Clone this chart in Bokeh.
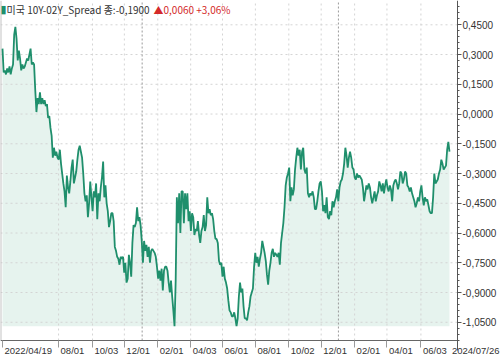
import numpy as np
import pandas as pd
from bokeh.plotting import figure
from bokeh.models import Range1d, FixedTicker, Label, CustomJSTickFormatter
from bokeh.core.properties import value
from bokeh.embed import file_html
from bokeh.resources import INLINE

# ---- data ----
seg1 = [0.33, 0.21, 0.22, 0.20, 0.23, 0.21, 0.24, 0.20, 0.23, 0.25,
        0.40, 0.44, 0.38, 0.27, 0.32, 0.28, 0.22, 0.25, 0.23, 0.24,
        0.26, 0.28, 0.27, 0.30, 0.33, 0.25, 0.26, 0.25, 0.12, 0.01,
        0.08, 0.05, 0.11, 0.05, 0.08, 0.05, 0.07, 0.04, 0.05, -0.02,
        -0.01, -0.07, -0.11, -0.22, -0.17, -0.21, -0.19, -0.22, -0.23, -0.18,
        -0.25, -0.30, -0.35, -0.39, -0.47, -0.31, -0.37, -0.40, -0.34, -0.27,
        -0.23, -0.35, -0.32, -0.29, -0.23, -0.18, -0.16, -0.19, -0.22, -0.30,
        -0.40, -0.44, -0.41, -0.52, -0.45, -0.34, -0.42, -0.49]
seg2 = [-0.39, -0.42, -0.35, -0.53, -0.40, -0.44, -0.37, -0.32, -0.24, -0.42,
        -0.36, -0.45, -0.49, -0.57, -0.54, -0.50, -0.50, -0.54, -0.67, -0.69,
        -0.72, -0.73, -0.76, -0.72, -0.73, -0.72, -0.80, -0.75, -0.85, -0.83,
        -0.71, -0.75, -0.82, -0.65, -0.56, -0.57, -0.55, -0.47, -0.54, -0.52,
        -0.56, -0.64, -0.75, -0.64, -0.69, -0.66, -0.72, -0.67, -0.75, -0.69,
        -0.68, -0.69, -0.70, -0.72, -0.77, -0.83, -0.79, -0.84, -0.78, -0.89,
        -0.79, -0.77, -0.77, -0.79, -0.85, -0.90, -0.84, -0.92, -0.99, -1.07,
        -0.84, -0.42, -0.55, -0.40, -0.60, -0.39]
seg3 = [-0.39, -0.55, -0.40, -0.48, -0.40, -0.54, -0.49, -0.59, -0.50, -0.52,
        -0.61, -0.58, -0.59, -0.54, -0.61, -0.65, -0.59, -0.57, -0.51, -0.59,
        -0.56, -0.42, -0.50, -0.48, -0.51, -0.50, -0.53, -0.59, -0.63, -0.63,
        -0.65, -0.74, -0.76, -0.75, -0.82, -0.77, -0.83, -0.85, -0.88, -0.94,
        -0.99, -1.00, -1.02, -1.02, -1.00, -1.03, -1.07, -1.03, -0.92, -0.85,
        -0.90, -0.88, -0.97, -1.03, -1.03, -1.04, -1.00, -0.97, -0.92, -0.90,
        -0.88, -0.77, -0.70, -0.75, -0.72, -0.77, -0.73, -0.70, -0.64, -0.67,
        -0.70, -0.74, -0.81, -0.86, -0.79]
seg4 = [-0.75, -0.70, -0.68, -0.72, -0.70, -0.71, -0.72, -0.70, -0.76, -0.65,
        -0.60, -0.55, -0.47, -0.36, -0.32, -0.30, -0.27, -0.44, -0.37, -0.41,
        -0.38, -0.28, -0.22, -0.17, -0.21, -0.18, -0.28, -0.19, -0.17, -0.28,
        -0.30, -0.27, -0.40, -0.42, -0.40, -0.41, -0.39, -0.42, -0.48, -0.48,
        -0.44, -0.39, -0.35, -0.34, -0.39, -0.49, -0.46, -0.50, -0.42, -0.52,
        -0.53, -0.49, -0.51, -0.44, -0.47, -0.44, -0.42, -0.38, -0.44, -0.37,
        -0.34, -0.33, -0.30, -0.25, -0.17, -0.21, -0.27, -0.22, -0.19, -0.22,
        -0.27, -0.28, -0.32, -0.33, -0.30, -0.32, -0.31]
seg5 = [-0.32, -0.33, -0.37, -0.44, -0.40, -0.36, -0.38, -0.35, -0.37, -0.42,
        -0.45, -0.42, -0.39, -0.44, -0.41, -0.39, -0.34, -0.36, -0.39, -0.35,
        -0.40, -0.36, -0.33, -0.37, -0.39, -0.36, -0.38, -0.44, -0.36, -0.34,
        -0.33, -0.35, -0.38, -0.35, -0.29, -0.30, -0.35, -0.33, -0.29, -0.30,
        -0.36, -0.37, -0.39, -0.37, -0.40, -0.42, -0.44, -0.47, -0.45, -0.42,
        -0.44, -0.39, -0.36, -0.42, -0.46, -0.42, -0.44, -0.43, -0.46, -0.49,
        -0.50, -0.50, -0.42, -0.30, -0.35, -0.34, -0.33, -0.30, -0.28, -0.23,
        -0.25, -0.28, -0.27, -0.26, -0.18, -0.14, -0.19]
spread = seg1 + seg2 + seg3 + seg4 + seg5

start_date = "2022-04-19"
end_date = "2024-07-26"

x_tick_dates = ["2022-04-19", "2022-08-01", "2022-10-03", "2022-12-01",
                "2023-02-01", "2023-04-03", "2023-06-01", "2023-08-01",
                "2023-10-02", "2023-12-01", "2024-02-01", "2024-04-01",
                "2024-06-03"]
x_tick_labels = ["2022/04/19", "08/01", "10/03", "12/01", "02/01", "04/03",
                 "06/01", "08/01", "10/02", "12/01", "02/01", "04/01", "06/03"]
last_label = "2024/07/26"
year_marks = ["2023-01-03", "2024-01-02"]

y_ticks = [0.45, 0.30, 0.15, 0.0, -0.15, -0.30, -0.45, -0.60, -0.75, -0.90, -1.05]
y_tick_labels = ["0,4500", "0,3000", "0,1500", "0,0000", "-0,1500", "-0,3000",
                 "-0,4500", "-0,6000", "-0,7500", "-0,9000", "-1,0500"]

title_mark = "▮"
title_name = "미국 10Y-02Y_Spread 종:-0,1900"
title_change = "▲0,0060 +3,06%"

# ---- layout (pixel geometry of the frame) ----
W, H = 500, 358
AXIS_X_PX, AXIS_Y_PX = 457, 340      # right value axis / bottom time axis
PX_PER_DAY = 0.5392
PX_PER_UNIT = 198.3
LINE = "#1f8f6c"
FILL = "#e6f3ee"
TXT = "#333333"
GRID = "#d4d4d4"
XFONT = "9.5px"

t0 = pd.Timestamp(start_date)


def x_at(px):
    return int((t0 + pd.Timedelta(days=(px - 2) / PX_PER_DAY)).value // 10**6)


def y_at(py):
    return 0.45 - (py - 24.3) / PX_PER_UNIT


def to_ms(ds):
    return (pd.to_datetime(ds).asi8 // 10**6).tolist()


dates = pd.date_range(start_date, end_date, periods=len(spread))
tick_ms = to_ms(x_tick_dates)
xl, xr = x_at(0), x_at(W)
xa_ms = x_at(AXIS_X_PX)
yb, yt = y_at(H), y_at(0)
ya_val = y_at(AXIS_Y_PX)

p = figure(width=W, height=H, x_axis_type="datetime",
           x_range=Range1d(xl, xr), y_range=Range1d(yb, yt),
           y_axis_location="right", output_backend="svg", toolbar_location=None,
           min_border=0)
p.outline_line_color = None
p.background_fill_color = "white"
p.border_fill_color = "white"
p.xgrid.visible = False
p.ygrid.visible = False

# area + grid + line
p.varea(x=dates, y1=min(spread), y2=spread, fill_color=FILL)
p.segment(x0=[xl] * len(y_ticks), y0=y_ticks, x1=[xa_ms] * len(y_ticks), y1=y_ticks,
          line_color=GRID, line_dash="2 3", line_width=1)
p.segment(x0=tick_ms[1:], y0=[ya_val] * (len(tick_ms) - 1), x1=tick_ms[1:],
          y1=[yt] * (len(tick_ms) - 1), line_color=GRID, line_dash="2 3", line_width=1)
ym = to_ms(year_marks)
p.segment(x0=ym, y0=[ya_val] * len(ym), x1=ym, y1=[yt] * len(ym),
          line_color="#9a9a9a", line_dash="2 2", line_width=1)
p.segment(x0=[xl], y0=[ya_val], x1=[xl], y1=[yt], line_color="#c4c4c4", line_width=2)
p.line(dates, spread, line_color=LINE, line_width=1.8)

# bottom time axis, drawn at its pixel row
xa = p.xaxis[0]
xa.fixed_location = ya_val
xa.bounds = (xl, xa_ms)
xa.ticker = FixedTicker(ticks=tick_ms)
xa.formatter = CustomJSTickFormatter(code="return ''")
xa.axis_line_color = "#666666"
xa.major_tick_line_color = "#9a9a9a"
xa.major_tick_out = 7
xa.major_tick_in = 0
xa.minor_tick_out = 0
xa.minor_tick_in = 0
p.text(x=tick_ms, y=[ya_val] * len(tick_ms), text=x_tick_labels,
       x_offset=2, y_offset=4, text_align="left", text_baseline="top",
       text_font=value("Liberation Sans"), text_font_size=value(XFONT),
       text_color=TXT)
p.text(x=[x_at(W - 1)], y=[ya_val], text=[last_label], y_offset=4,
       text_align="right", text_baseline="top",
       text_font=value("Liberation Sans"), text_font_size=value(XFONT),
       text_color=TXT)

# right value axis, drawn at its pixel column
ya = p.yaxis[0]
ya.fixed_location = xa_ms
ya.bounds = (y_at(350), yt)
minor = np.round(np.arange(-1.14, 0.57, 0.03), 4).tolist()
ya.ticker = FixedTicker(ticks=y_ticks, minor_ticks=minor)
ya.major_label_overrides = dict(zip(y_ticks, y_tick_labels))
ya.axis_line_color = "#555555"
ya.major_tick_line_color = "#555555"
ya.minor_tick_line_color = "#555555"
ya.major_tick_out = 4
ya.major_tick_in = 0
ya.minor_tick_out = 2
ya.minor_tick_in = 0
ya.major_label_standoff = 1
ya.major_label_text_font = "Liberation Sans"
ya.major_label_text_font_size = "10px"
ya.major_label_text_color = TXT

# title
p.add_layout(Label(x=0, y=H - 2, x_units="screen", y_units="screen",
                   text=title_mark, text_baseline="top", text_font="DejaVu Sans",
                   text_font_size="11px", text_color=LINE))
p.add_layout(Label(x=6, y=H - 1, x_units="screen", y_units="screen",
                   text=title_name, text_baseline="top",
                   text_font="Noto Sans CJK KR", text_font_size="10px",
                   text_color=TXT))
p.add_layout(Label(x=153, y=H - 1, x_units="screen", y_units="screen",
                   text=title_change, text_baseline="top",
                   text_font="Noto Sans CJK KR", text_font_size="10px",
                   text_color="#d42a2a"))

open("out.html", "w").write(file_html(p, INLINE))
